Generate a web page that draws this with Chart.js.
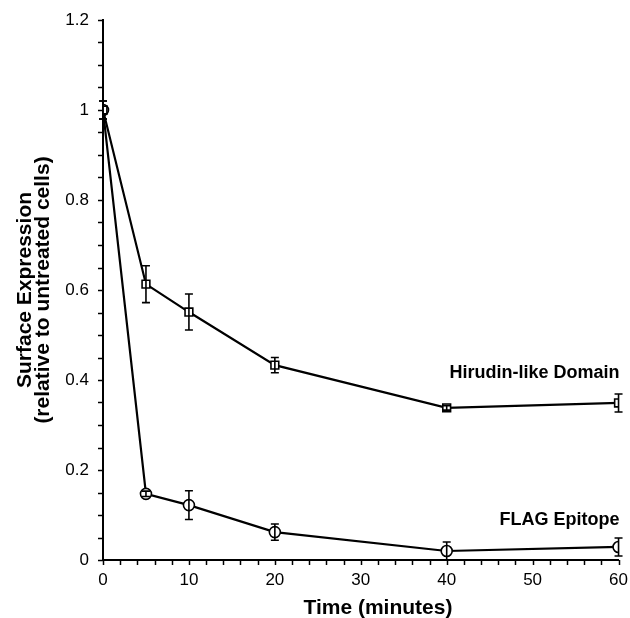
<!DOCTYPE html>
<html><head><meta charset="utf-8">
<script src="https://cdn.jsdelivr.net/npm/chart.js@4.4.0/dist/chart.umd.min.js"></script>
<style>html,body{margin:0;padding:0;background:#fff}#wrap{width:630px;height:618px}</style>
</head><body><div id="wrap"><canvas id="c" width="630" height="618"></canvas></div>
<script>
const times = [0, 5, 10, 20, 40, 60];
const hirudin = [1.0, 0.613, 0.551, 0.433, 0.338, 0.349];
const hirudinErr = [0.02, 0.041, 0.04, 0.017, 0.005, 0.02];
const flag = [1.0, 0.147, 0.122, 0.062, 0.02, 0.029];
const flagErr = [0.02, 0.006, 0.032, 0.018, 0.02, 0.02];
const yTicks = [0, 0.2, 0.4, 0.6, 0.8, 1, 1.2];
const xTicks = [0, 10, 20, 30, 40, 50, 60];
const labelHirudin = {text: 'Hirudin-like Domain', x: 60, y: 0.404};
const labelFlag = {text: 'FLAG Epitope', x: 60, y: 0.078};
const xTitle = {text: 'Time (minutes)', x: 32};

const FONT = "'Liberation Sans', Arial, Helvetica, sans-serif";

const extras = {
  id: 'extras',
  afterDatasetsDraw(chart) {
    const ctx = chart.ctx, xs = chart.scales.x, ys = chart.scales.y;
    ctx.save();
    ctx.strokeStyle = '#000';
    ctx.lineWidth = 1.6;
    const sets = [[hirudin, hirudinErr], [flag, flagErr]];
    sets.forEach(([vals, errs]) => {
      vals.forEach((v, i) => {
        const px = xs.getPixelForValue(times[i]);
        const y1 = ys.getPixelForValue(v + errs[i]);
        const y2 = ys.getPixelForValue(v - errs[i]);
        ctx.beginPath();
        ctx.moveTo(px, y1); ctx.lineTo(px, y2);
        ctx.moveTo(px - 4, y1); ctx.lineTo(px + 4, y1);
        ctx.moveTo(px - 4, y2); ctx.lineTo(px + 4, y2);
        ctx.stroke();
      });
    });
    ctx.lineWidth = 1.5;
    const x0 = xs.left, yb = ys.bottom;
    for (let v = 0; v <= 1.2001; v += 0.05) {
      const py = Math.round(ys.getPixelForValue(v)) + 0.5;
      ctx.beginPath(); ctx.moveTo(x0, py); ctx.lineTo(x0 - 5, py); ctx.stroke();
    }
    for (let v = 0; v <= 60.001; v += 2) {
      const px = Math.round(xs.getPixelForValue(v)) + 0.5;
      ctx.beginPath(); ctx.moveTo(px, yb); ctx.lineTo(px, yb + 5); ctx.stroke();
    }
    ctx.fillStyle = '#000';
    ctx.font = "bold 18px " + FONT;
    ctx.textAlign = 'right';
    ctx.textBaseline = 'alphabetic';
    [labelHirudin, labelFlag].forEach(l => {
      ctx.fillText(l.text, xs.getPixelForValue(l.x) + 1, ys.getPixelForValue(l.y));
    });
    ctx.font = "bold 21px " + FONT;
    ctx.textAlign = 'center';
    ctx.fillText(xTitle.text, xs.getPixelForValue(xTitle.x), 614);
    ctx.restore();
  }
};

new Chart(document.getElementById('c'), {
  type: 'scatter',
  data: {
    datasets: [
      {
        label: 'Hirudin-like Domain',
        data: times.map((t, i) => ({x: t, y: hirudin[i]})),
        showLine: true, borderColor: '#000', borderWidth: 2.2,
        pointStyle: 'rect', pointRadius: 5.5, pointBorderWidth: 1.6,
        pointBackgroundColor: '#fff', pointBorderColor: '#000'
      },
      {
        label: 'FLAG Epitope',
        data: times.map((t, i) => ({x: t, y: flag[i]})),
        showLine: true, borderColor: '#000', borderWidth: 2.2,
        pointStyle: 'circle', pointRadius: 5.5, pointBorderWidth: 1.6,
        pointBackgroundColor: '#fff', pointBorderColor: '#000'
      }
    ]
  },
  options: {
    responsive: false,
    animation: false,
    layout: {padding: {top: 20, right: 10, left: 16, bottom: 0}},
    plugins: {legend: {display: false}, tooltip: {enabled: false}},
    scales: {
      x: {
        type: 'linear', min: 0, max: 60,
        afterBuildTicks: s => { s.ticks = xTicks.map(v => ({value: v})); },
        afterFit: s => { s.height = 58; },
        grid: {display: false, drawOnChartArea: false, drawTicks: true, tickLength: 8, tickColor: '#000', tickWidth: 1.5},
        border: {display: true, color: '#000', width: 2},
        ticks: {color: '#000', font: {family: FONT, size: 17}, padding: 2, maxRotation: 0},
        title: {display: false}
      },
      y: {
        type: 'linear', min: 0, max: 1.2,
        afterBuildTicks: s => { s.ticks = yTicks.map(v => ({value: v})); },
        afterFit: s => { s.width = 87; },
        grid: {display: false, drawOnChartArea: false, drawTicks: true, tickLength: 8, tickColor: '#000', tickWidth: 1.5},
        border: {display: true, color: '#000', width: 2},
        ticks: {color: '#000', font: {family: FONT, size: 17}, padding: 6,
          callback: v => String(Math.round(v * 10) / 10)},
        title: {display: true, text: ['Surface Expression', '(relative to untreated cells)'], color: '#000', font: {family: FONT, size: 21, weight: 'bold', lineHeight: 0.85}, padding: {top: 0, bottom: 4}}
      }
    }
  },
  plugins: [extras]
});
</script></body></html>
